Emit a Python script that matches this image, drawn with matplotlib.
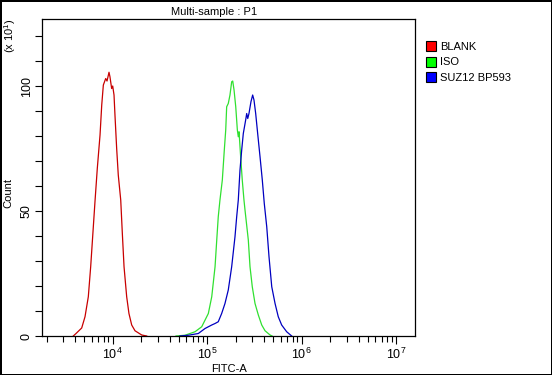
import numpy as np
import matplotlib
matplotlib.use("Agg")
import matplotlib.pyplot as plt
from matplotlib.patches import Patch
from matplotlib.ticker import LogLocator, MultipleLocator, NullFormatter

plt.rcParams['font.family'] = ['Liberation Sans', 'DejaVu Sans']
plt.rcParams['mathtext.fontset'] = 'custom'
plt.rcParams['mathtext.rm'] = 'Liberation Sans'
plt.rcParams['mathtext.it'] = 'Liberation Sans'

# histogram outlines (log10 FITC-A, count in units of 10)
blank_log = [3.583, 3.612, 3.672, 3.707, 3.742, 3.767, 3.788, 3.813, 3.837, 3.866,
             3.884, 3.901, 3.926, 3.940, 3.961, 3.971, 3.989, 4.000, 4.014, 4.024,
             4.042, 4.059, 4.085, 4.102, 4.120, 4.148, 4.172, 4.201, 4.236, 4.307, 4.360]
blank_cnt = [0, 1, 3.2, 7.7, 15.7, 27.7, 39.7, 54, 67, 80.4,
             92.4, 100.4, 103, 102, 105.5, 103.7, 99, 100, 96.4, 88.4,
             75, 64.4, 54.4, 41, 27.7, 15.7, 9, 4.4, 2.1, 0.4, 0]

iso_log = [4.670, 4.765, 4.871, 4.942, 5.012, 5.048, 5.083, 5.101, 5.117, 5.135,
           5.160, 5.181, 5.196, 5.206, 5.223, 5.241, 5.259, 5.270, 5.284, 5.302,
           5.319, 5.329, 5.337, 5.354, 5.371, 5.389, 5.400, 5.435, 5.453, 5.477,
           5.506, 5.541, 5.577, 5.612, 5.665, 5.686]
iso_cnt = [0, 0.3, 1.7, 3.7, 9, 15.7, 27.7, 38.4, 47.7, 54.4,
           62.4, 74.4, 82.4, 91.7, 93, 96.4, 101.7, 102, 98.4, 91.7,
           82.4, 79.7, 81.7, 71.7, 62.4, 54.4, 50.4, 38.4, 27.7, 19.7,
           13, 8.4, 4.4, 2.1, 0.4, 0]

suz_log = [4.712, 4.800, 4.906, 4.977, 5.048, 5.083, 5.117, 5.153, 5.188, 5.223,
           5.259, 5.294, 5.312, 5.329, 5.347, 5.365, 5.382, 5.407, 5.418, 5.429,
           5.442, 5.463, 5.481, 5.495, 5.513, 5.534, 5.559, 5.583, 5.604, 5.630,
           5.654, 5.683, 5.718, 5.752, 5.788, 5.841, 5.894]
suz_cnt = [0, 0.3, 1, 3, 4.4, 5, 5.7, 9, 13, 18.4,
           27.7, 39.7, 47.7, 54.4, 66.4, 74.4, 81, 86.4, 89, 87,
           89, 93.7, 96.4, 94.4, 89, 81, 71.7, 62.4, 53, 43.7,
           31.7, 19.7, 13, 7.7, 4.4, 1.7, 0]

labels = ['BLANK', 'ISO', 'SUZ12 BP593']
line_colors = ['#c80000', '#30e030', '#0000c0']
box_colors = ['#ff0000', '#00ff00', '#0000ff']

fig = plt.figure(figsize=(5.52, 3.75), dpi=100, facecolor='white',
                 edgecolor='black', linewidth=2)
ax = fig.add_axes([0.0761, 0.104, 0.6766, 0.8453])

series = [(blank_log, blank_cnt), (iso_log, iso_cnt), (suz_log, suz_cnt)]
for (xl, yc), c in zip(series, line_colors):
    ax.plot(10 ** np.array(xl), yc, color=c, lw=0.9)

ax.set_xscale('log')
ax.set_xlim(10 ** 3.252, 10 ** 7.204)
ax.set_ylim(0, 126.8)
ax.xaxis.set_major_locator(LogLocator(base=10, numticks=10))
ax.xaxis.set_minor_locator(LogLocator(base=10, subs=np.arange(2, 10), numticks=20))
ax.xaxis.set_minor_formatter(NullFormatter())
ax.yaxis.set_major_locator(MultipleLocator(50))
ax.yaxis.set_minor_locator(MultipleLocator(10))

ax.tick_params(axis='both', which='both', direction='out', labelsize=9, width=0.8)
ax.tick_params(axis='x', which='major', length=6, pad=2)
ax.tick_params(axis='x', which='minor', length=4)
ax.tick_params(axis='y', which='both', length=5, pad=1.5)
for lab in ax.get_yticklabels():
    lab.set_rotation(90)
    lab.set_va('center')
for s in ax.spines.values():
    s.set_linewidth(0.9)

ax.set_title('Multi-sample : P1', fontsize=8, pad=3, x=0.46)
ax.set_xlabel('FITC-A', fontsize=8, labelpad=1)
fig.text(0.016, 0.485, 'Count', rotation=90, fontsize=8, ha='center', va='center')
fig.text(0.018, 0.905, r'(x 10$^1$)', rotation=90, fontsize=8, ha='center', va='center')

handles = [Patch(facecolor=c, edgecolor='black', lw=0.8) for c in box_colors]
ax.legend(handles, labels, loc='upper left', bbox_to_anchor=(1.016, 0.945),
          frameon=False, fontsize=8, handlelength=0.95, handleheight=1.0,
          handletextpad=0.35, labelspacing=0.45, borderaxespad=0)

fig.savefig('out.png', dpi=100, facecolor='white', edgecolor=fig.get_edgecolor())
